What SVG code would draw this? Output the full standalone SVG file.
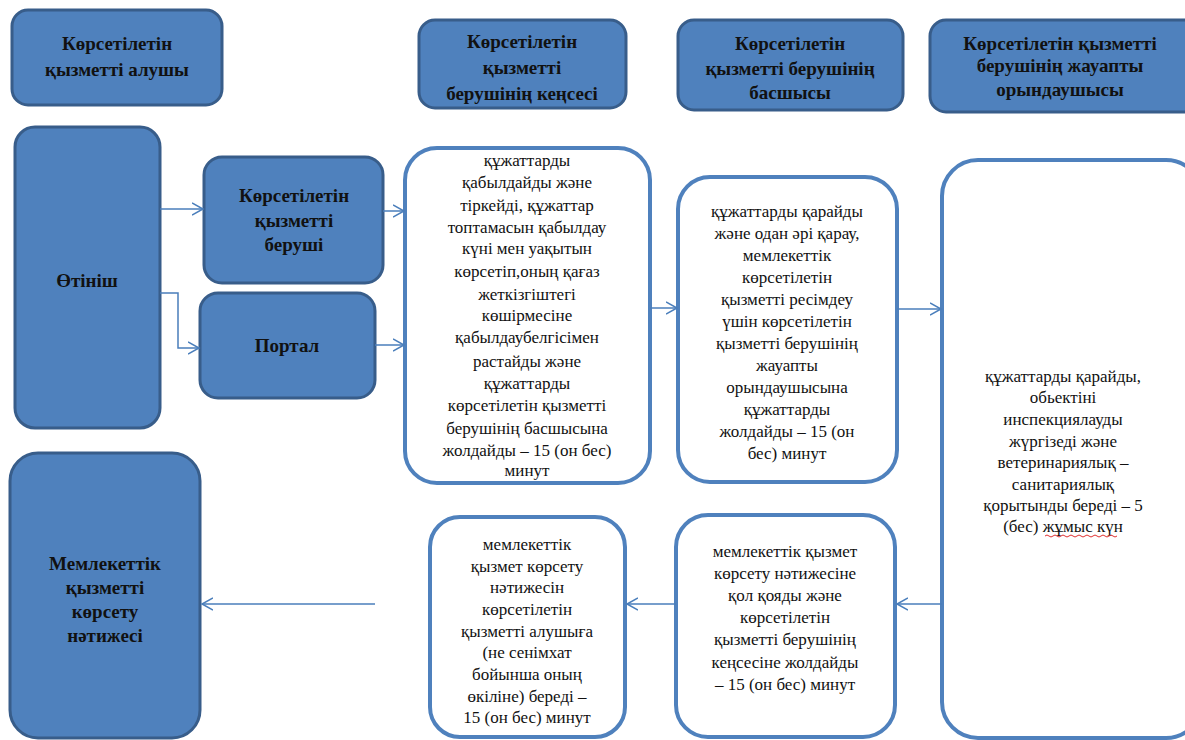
<svg xmlns="http://www.w3.org/2000/svg" width="1185" height="740" viewBox="0 0 1185 740" font-family="'Liberation Serif','DejaVu Serif',serif">
<defs>
<marker id="arr" markerUnits="userSpaceOnUse" markerWidth="14" markerHeight="14" refX="11" refY="6" orient="auto" viewBox="0 0 14 12">
<path d="M0,0 L11,6 L0,12" fill="none" stroke="#4a7ebb" stroke-width="1.5"/>
</marker>
<style>
.blue{fill:#4f81bd;stroke:#385d8a;stroke-width:3}
.white{fill:#fff;stroke:#4f81bd;stroke-width:4}
text{font-family:'Liberation Serif','DejaVu Serif',serif;fill:#111;text-anchor:middle}
.hb{font-weight:bold;font-size:19px}
.tx{font-size:17px}
.con{fill:none;stroke:#4a7ebb;stroke-width:1.5}
</style>
</defs>
<rect width="1185" height="740" fill="#fff"/>

<g id="h1"><rect class="blue" x="12" y="10" width="210" height="95" rx="16"/>
<text class="hb" x="117" y="50">Көрсетілетін</text><text class="hb" x="117" y="76">қызметті алушы</text></g>
<g id="h2"><rect class="blue" x="419" y="20" width="207" height="88" rx="16"/>
<text class="hb" x="522" y="48">Көрсетілетін</text><text class="hb" x="522" y="74">қызметті</text><text class="hb" x="522" y="100">берушінің кеңсесі</text></g>
<g id="h3"><rect class="blue" x="678" y="20" width="225" height="90" rx="16"/>
<text class="hb" x="790" y="50">Көрсетілетін</text><text class="hb" x="790" y="75">қызметті берушінің</text><text class="hb" x="790" y="99">басшысы</text></g>
<g id="h4"><rect class="blue" x="930" y="20" width="270" height="92" rx="16"/>
<text class="hb" x="1060" y="50">Көрсетілетін қызметті</text><text class="hb" x="1060" y="72">берушінің жауапты</text><text class="hb" x="1060" y="96">орындаушысы</text></g>

<g id="otinish"><rect class="blue" x="15" y="127" width="145" height="301" rx="20"/>
<text class="hb" x="87" y="287">Өтініш</text></g>
<g id="berushi"><rect class="blue" x="204" y="157" width="179" height="126" rx="18"/>
<text class="hb" x="294" y="202">Көрсетілетін</text><text class="hb" x="294" y="227">қызметті</text><text class="hb" x="294" y="251">беруші</text></g>
<g id="portal"><rect class="blue" x="200" y="293" width="175" height="105" rx="18"/>
<text class="hb" x="287" y="352">Портал</text></g>
<g id="natije"><rect class="blue" x="10" y="453" width="190" height="285" rx="28"/>
<text class="hb" x="105" y="570">Мемлекеттік</text><text class="hb" x="105" y="594">қызметті</text><text class="hb" x="105" y="618">көрсету</text><text class="hb" x="105" y="642">нәтижесі</text></g>

<g id="boxA"><rect class="white" x="405" y="148" width="245" height="335" rx="32"/>
<text class="tx" x="527" y="166">құжаттарды</text>
<text class="tx" x="527" y="188">қабылдайды және</text>
<text class="tx" x="527" y="211">тіркейді, құжаттар</text>
<text class="tx" x="527" y="233">топтамасын  қабылдау</text>
<text class="tx" x="527" y="254">күні мен уақытын</text>
<text class="tx" x="527" y="277">көрсетіп,оның қағаз</text>
<text class="tx" x="527" y="300">жеткізгіштегі</text>
<text class="tx" x="527" y="321">көшірмесіне</text>
<text class="tx" x="527" y="343">қабылдаубелгісімен</text>
<text class="tx" x="527" y="367">растайды және</text>
<text class="tx" x="527" y="389">құжаттарды</text>
<text class="tx" x="527" y="411">көрсетілетін қызметті</text>
<text class="tx" x="527" y="434">берушінің басшысына</text>
<text class="tx" x="527" y="456">жолдайды – 15 (он бес)</text>
<text class="tx" x="527" y="476">минут</text></g>

<g id="boxB"><rect class="white" x="678" y="177" width="219" height="305" rx="32"/>
<text class="tx" x="787" y="217">құжаттарды қарайды</text>
<text class="tx" x="787" y="239">және одан әрі қарау,</text>
<text class="tx" x="787" y="261">мемлекеттік</text>
<text class="tx" x="787" y="283">көрсетілетін</text>
<text class="tx" x="787" y="305">қызметті ресімдеу</text>
<text class="tx" x="787" y="327">үшін көрсетілетін</text>
<text class="tx" x="787" y="349">қызметті берушінің</text>
<text class="tx" x="787" y="371">жауапты</text>
<text class="tx" x="787" y="393">орындаушысына</text>
<text class="tx" x="787" y="415">құжаттарды</text>
<text class="tx" x="787" y="437">жолдайды – 15 (он</text>
<text class="tx" x="787" y="459">бес) минут</text></g>

<g id="boxC"><rect class="white" x="942" y="160" width="260" height="578" rx="36"/>
<text class="tx" x="1063" y="382">құжаттарды қарайды,</text>
<text class="tx" x="1063" y="403">обьектіні</text>
<text class="tx" x="1063" y="425">инспекциялауды</text>
<text class="tx" x="1063" y="447">жүргізеді және</text>
<text class="tx" x="1063" y="468">ветеринариялық –</text>
<text class="tx" x="1063" y="490">санитариялық</text>
<text class="tx" x="1063" y="511">қорытынды береді – 5</text>
<text class="tx" x="1063" y="532">(бес) жұмыс күн</text>
<path d="M1045,536 q2,-2 4,0 t4,0 t4,0 t4,0 t4,0 t4,0 t4,0 t4,0 t4,0 t4,0 t4,0 t4,0 t4,0 t4,0 t4,0 t4,0 t4,0 t4,0" fill="none" stroke="#e03030" stroke-width="1"/></g>

<g id="boxD"><rect class="white" x="676" y="515" width="219" height="222" rx="32"/>
<text class="tx" x="785" y="557">мемлекеттік  қызмет</text>
<text class="tx" x="785" y="579">көрсету нәтижесіне</text>
<text class="tx" x="785" y="601">қол қояды және</text>
<text class="tx" x="785" y="623">көрсетілетін</text>
<text class="tx" x="785" y="645">қызметті берушінің</text>
<text class="tx" x="785" y="668">кеңсесіне  жолдайды</text>
<text class="tx" x="785" y="690">– 15 (он бес) минут</text></g>

<g id="boxE"><rect class="white" x="430" y="517" width="195" height="220" rx="30"/>
<text class="tx" x="527" y="550">мемлекеттік</text>
<text class="tx" x="527" y="572">қызмет көрсету</text>
<text class="tx" x="527" y="593">нәтижесін</text>
<text class="tx" x="527" y="615">көрсетілетін</text>
<text class="tx" x="527" y="637">қызметті алушыға</text>
<text class="tx" x="527" y="658">(не сенімхат</text>
<text class="tx" x="527" y="680">бойынша  оның</text>
<text class="tx" x="527" y="702">өкіліне) береді –</text>
<text class="tx" x="527" y="723">15 (он бес) минут</text></g>

<g id="connectors">
<path class="con" d="M160,209 H203" marker-end="url(#arr)"/>
<path class="con" d="M160,293 H178 V348 H199" marker-end="url(#arr)"/>
<path class="con" d="M383,211 H404" marker-end="url(#arr)"/>
<path class="con" d="M375,345 H404" marker-end="url(#arr)"/>
<path class="con" d="M650,308 H677" marker-end="url(#arr)"/>
<path class="con" d="M897,309 H941" marker-end="url(#arr)"/>
<path class="con" d="M942,604 H897" marker-end="url(#arr)"/>
<path class="con" d="M676,604 H627" marker-end="url(#arr)"/>
<path class="con" d="M375,604 H202" marker-end="url(#arr)"/>
</g>
</svg>
